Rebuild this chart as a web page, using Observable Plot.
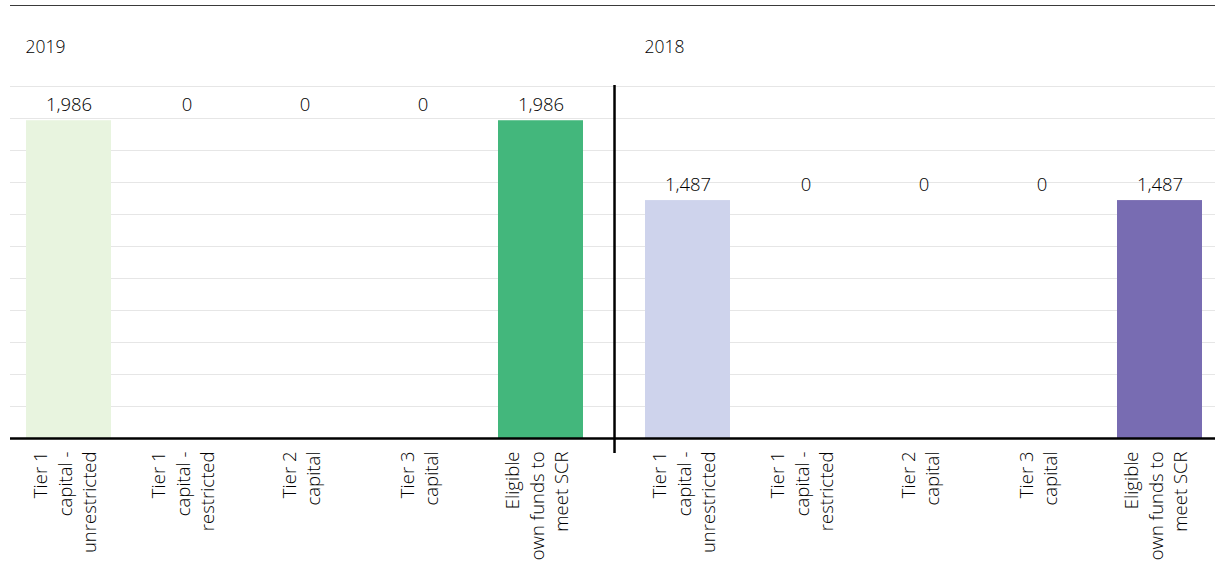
<!DOCTYPE html>
<html>
<head>
<meta charset="utf-8">
<script src="https://cdn.jsdelivr.net/npm/d3@7"></script>
<script src="https://cdn.jsdelivr.net/npm/@observablehq/plot@0.6"></script>
<style>
  html, body { margin: 0; padding: 0; background: #fff; }
  #wrap { position: relative; width: 1215px; height: 572px; }
  #topline { position: absolute; left: 10px; top: 5px; width: 1205px; height: 0; border-top: 1.5px solid #3a3a3a; }
  svg { display: block; }
</style>
</head>
<body>
<div id="wrap"><div id="topline"></div><div id="chart"></div></div>
<script>
// ---- data ----
const years = ["2019", "2018"];
const categories = [
  "Tier 1 capital - unrestricted",
  "Tier 1 capital - restricted",
  "Tier 2 capital",
  "Tier 3 capital",
  "Eligible own funds to meet SCR"
];
const tickLabels = [
  "Tier 1\ncapital -\nunrestricted",
  "Tier 1\ncapital -\nrestricted",
  "Tier 2\ncapital",
  "Tier 3\ncapital",
  "Eligible\nown funds to\nmeet SCR"
];
const values2019 = [1986, 0, 0, 0, 1986];
const values2018 = [1487, 0, 0, 0, 1487];
const gridTicks = [200, 400, 600, 800, 1000, 1200, 1400, 1600, 1800, 2000, 2200];

// ---- styles ----
const lightFill = {"2019": "#e8f4df", "2018": "#ced3ec"};
const darkFill = {"2019": "#43b77c", "2018": "#786cb2"};
const gridColor = "#e6e6e6";
const fontFamily = "'Open Sans', Lato, sans-serif";
const fontWeight = 300;
const textColor = "#000";
const fs = 18.5;

const valuesByYear = {"2019": values2019, "2018": values2018};
const rows = years.flatMap(y => categories.map((c, i) => ({year: y, category: c, value: valuesByYear[y][i]})));
const maxByYear = Object.fromEntries(years.map(y => [y, d3.max(valuesByYear[y])]));

// layout
const width = 1215, height = 572;
const mL = 16, mR = 3, mT = 86, mB = 134;
const gap = 42;
const facetPadInner = gap / 619;
const xPadInner = 0.28, xPadOuter = 10 / 118;
const facetBand = (width - mL - mR) / (2 - facetPadInner) * (1 - facetPadInner);
const xStep = facetBand / (5 - xPadInner + 2 * xPadOuter);
const dividerDx = -(xStep * (1 - xPadInner) / 2 + xStep * xPadOuter + gap / 2);

const chart = Plot.plot({
  width, height,
  marginLeft: mL, marginRight: mR, marginTop: mT, marginBottom: mB,
  facet: {marginTop: 0, marginRight: 0, marginBottom: 0, marginLeft: 0},
  style: {fontFamily, fontWeight, fontSize: fs + "px", color: textColor, background: "transparent"},
  fx: {domain: years, paddingInner: facetPadInner, paddingOuter: 0, axis: null},
  x: {domain: categories, paddingInner: xPadInner, paddingOuter: xPadOuter, axis: null},
  y: {domain: [0, 2200], axis: null},
  marks: [
    Plot.ruleY(gridTicks.map(t => ({t, year: "2019"})), {fx: "year", y: "t", stroke: gridColor, strokeWidth: 1, insetLeft: -6, insetRight: -gap / 2}),
    Plot.ruleY(gridTicks.map(t => ({t, year: "2018"})), {fx: "year", y: "t", stroke: gridColor, strokeWidth: 1, insetLeft: -gap / 2, insetRight: -3}),
    Plot.barY(rows, {
      fx: "year", x: "category", y: "value",
      fill: d => d.category === categories[4] ? darkFill[d.year] : lightFill[d.year]
    }),
    Plot.ruleY([{year: "2019"}], {fx: "year", y: () => 0, stroke: "#000", strokeWidth: 2.5, insetLeft: -6, insetRight: -gap / 2}),
    Plot.ruleY([{year: "2018"}], {fx: "year", y: () => 0, stroke: "#000", strokeWidth: 2.5, insetLeft: -gap / 2, insetRight: -3}),
    Plot.ruleX([{year: "2018", c: categories[0]}], {fx: "year", x: "c", y1: 2200, y2: 0, dx: dividerDx, insetBottom: -15, insetTop: -1, stroke: "#000", strokeWidth: 2.5}),
    Plot.text(rows, {
      fx: "year", x: "category", y: d => maxByYear[d.year],
      text: d => d3.format(",")(d.value), lineAnchor: "bottom", dy: -10, fontSize: fs, fill: textColor
    }),
    Plot.text(years, {fx: d => d, frameAnchor: "top-left", text: d => d, dx: 9, dy: -39, textAnchor: "start", lineAnchor: "middle", fontSize: fs - 1, fill: textColor}),
    Plot.text(categories, {
      x: d => d, y: () => 0, text: (d, i) => tickLabels[i],
      rotate: -90, textAnchor: "end", lineAnchor: "middle", dx: -5, dy: 13, lineHeight: 1.33, fontSize: fs, fill: textColor
    })
  ]
});
document.getElementById("chart").appendChild(chart);
</script>
</body>
</html>
